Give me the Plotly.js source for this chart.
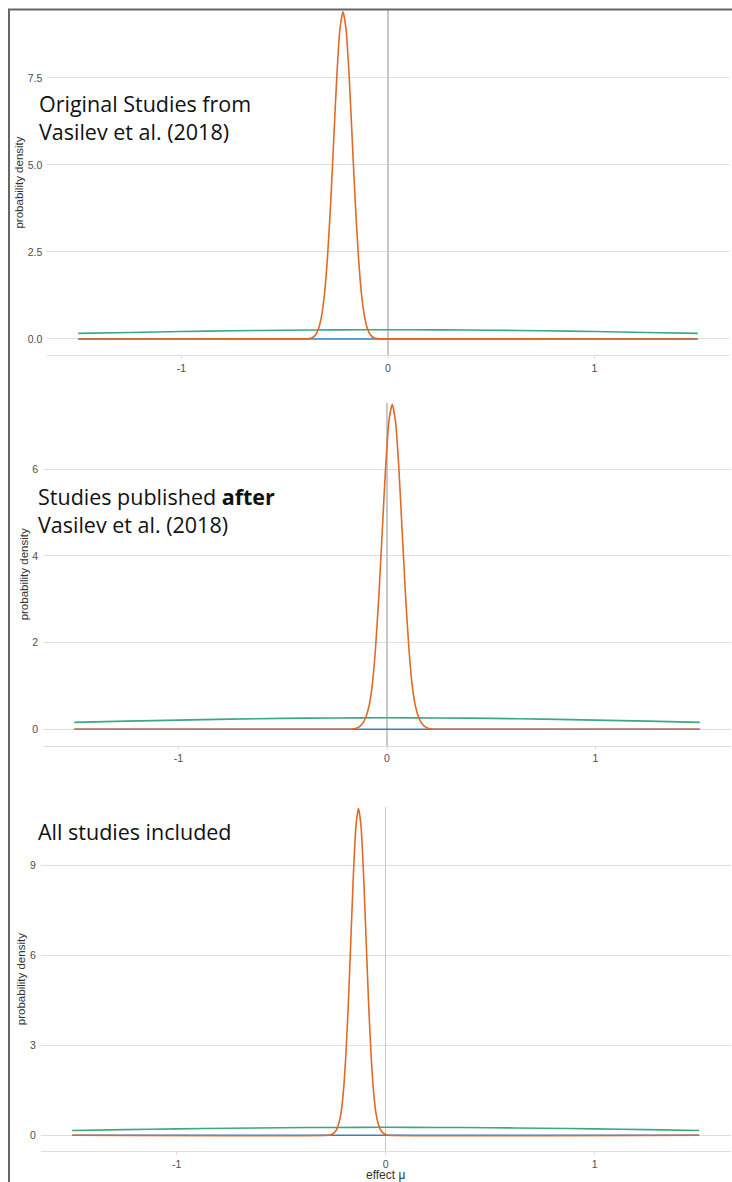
<!DOCTYPE html>
<html>
<head>
<meta charset="utf-8">
<script src="https://cdn.plot.ly/plotly-3.0.1.min.js"></script>
<style>
  html, body { margin: 0; padding: 0; background: #ffffff; }
  #chart { width: 732px; height: 1182px; }
</style>
</head>
<body>
<div id="chart"></div>
<script>
// ---- data ----
const panelTitles = [
  "Original Studies from<br>Vasilev et al. (2018)",
  "Studies published <b>after</b><br>Vasilev et al. (2018)",
  "All studies included"
];

// wide prior density (green), same in all panels
const priorX = [-1.5, -1.25, -1.0, -0.75, -0.5, -0.25, 0, 0.25, 0.5, 0.75, 1.0, 1.25, 1.5];
const priorY = [0.161, 0.188, 0.213, 0.235, 0.252, 0.262, 0.266, 0.262, 0.252, 0.235, 0.213, 0.188, 0.161];

// flat blue line at zero
const blueX = [-1.5, 1.5];
const blueY = [0, 0];

// posterior (orange) — original studies
const origX = [-1.5, -0.398, -0.383, -0.368, -0.353, -0.338, -0.323, -0.308, -0.293, -0.278, -0.263, -0.248, -0.233, -0.218,
  -0.203, -0.188, -0.173, -0.158, -0.143, -0.128, -0.113, -0.098, -0.083, -0.068, -0.053, -0.038, 1.5];
const origY = [0, 0.003, 0.011, 0.036, 0.104, 0.27, 0.62, 1.27, 2.35, 3.86, 5.70, 7.53, 8.89, 9.40,
  8.89, 7.53, 5.70, 3.86, 2.35, 1.27, 0.62, 0.27, 0.104, 0.036, 0.011, 0.003, 0];

// posterior (orange) — studies after
const afterX = [-1.5, -0.183, -0.167, -0.151, -0.135, -0.119, -0.103, -0.087, -0.071, -0.055, -0.039, -0.023, -0.007, 0.009, 0.025,
  0.041, 0.057, 0.073, 0.089, 0.105, 0.121, 0.137, 0.153, 0.169, 0.185, 0.201, 0.217, 0.233, 1.5];
const afterY = [0, 0.001, 0.006, 0.02, 0.05, 0.12, 0.26, 0.52, 1.01, 1.87, 3.08, 4.55, 6.01, 7.10, 7.50,
  7.10, 6.01, 4.55, 3.08, 1.87, 1.01, 0.52, 0.26, 0.12, 0.05, 0.02, 0.006, 0.001, 0];

// posterior (orange) — all studies
const allX = [-1.5, -0.274, -0.262, -0.25, -0.238, -0.226, -0.214, -0.202, -0.19, -0.178, -0.166, -0.154, -0.142, -0.13,
  -0.118, -0.106, -0.094, -0.082, -0.07, -0.058, -0.046, -0.034, -0.022, -0.01, 0.002, 0.014, 1.5];
const allY = [0, 0.003, 0.02, 0.06, 0.15, 0.35, 0.72, 1.47, 2.72, 4.48, 6.61, 8.73, 10.31, 10.9,
  10.31, 8.73, 6.61, 4.48, 2.72, 1.47, 0.72, 0.35, 0.15, 0.06, 0.02, 0.003, 0];

const xTickVals = [-1, 0, 1];
const xTickText = ["-1", "0", "1"];
const yTickSets = [
  {vals: [0, 2.5, 5, 7.5], text: ["0.0", "2.5", "5.0", "7.5"]},
  {vals: [0, 2, 4, 6], text: ["0", "2", "4", "6"]},
  {vals: [0, 3, 6, 9], text: ["0", "3", "6", "9"]}
];

// ---- styling / layout ----
const W = 732, H = 1182;
const GREEN = "#3aa882", BLUE = "#3d7fc6", ORANGE = "#e06a26";

const orangeSets = [[origX, origY], [afterX, afterY], [allX, allY]];
// pixel geometry of each panel: [left, right, top, bottom] and y ranges
const panels = [
  {px: [47.3, 728.7], py: [10, 355], yr: [-0.46, 9.45]},
  {px: [43, 731], py: [403, 745.7], yr: [-0.378, 7.53]},
  {px: [40.8, 730.5], py: [807.3, 1151], yr: [-0.523, 10.93]}
];

const traces = [];
const layout = {
  width: W, height: H,
  margin: {l: 0, r: 0, t: 0, b: 0},
  paper_bgcolor: "#ffffff",
  plot_bgcolor: "#ffffff",
  showlegend: false,
  font: {family: "Liberation Sans, Arial, sans-serif", color: "#4d4d4d", size: 10},
  annotations: [],
  shapes: []
};

panels.forEach((p, i) => {
  const sx = i === 0 ? "" : String(i + 1);
  const xa = "x" + sx, ya = "y" + sx;
  traces.push({x: blueX, y: blueY, xaxis: xa, yaxis: ya, type: "scatter", mode: "lines",
    line: {color: BLUE, width: 1.6}, hoverinfo: "skip"});
  traces.push({x: priorX, y: priorY, xaxis: xa, yaxis: ya, type: "scatter", mode: "lines",
    line: {color: GREEN, width: 1.6, shape: "spline"}, hoverinfo: "skip"});
  traces.push({x: orangeSets[i][0], y: orangeSets[i][1], xaxis: xa, yaxis: ya, type: "scatter", mode: "lines",
    line: {color: ORANGE, width: 1.6, shape: "spline", smoothing: 0.6}, hoverinfo: "skip"});

  layout["xaxis" + sx] = {
    domain: [p.px[0] / W, p.px[1] / W],
    anchor: ya,
    range: [-1.65, 1.65],
    tickmode: "array", tickvals: xTickVals, ticktext: xTickText,
    showgrid: false,
    zeroline: true, zerolinecolor: "#c8c8c8", zerolinewidth: 1.6,
    showline: true, linecolor: "#dddddd", linewidth: 1,
    ticks: "outside", ticklen: 3, tickcolor: "#dddddd",
    tickfont: {size: 10.5, color: "#4d4d4d"},
    fixedrange: true
  };
  if (i === 2) {
    layout["xaxis" + sx].title = {text: "effect μ", font: {size: 12, color: "#333"}, standoff: 0};
  }
  layout["yaxis" + sx] = {
    domain: [1 - p.py[1] / H, 1 - p.py[0] / H],
    anchor: xa,
    range: p.yr,
    tickmode: "array", tickvals: yTickSets[i].vals, ticktext: yTickSets[i].text,
    showgrid: true, gridcolor: "#dedede", gridwidth: 1,
    zeroline: false, showline: false, ticks: "",
    ticklabelstandoff: 4,
    tickfont: {size: 10.5, color: "#4d4d4d"},
    title: {text: "probability density", font: {size: 11.5, color: "#333"}, standoff: 1},
    fixedrange: true
  };
});

// panel labels
const labelPos = [
  {x: 37, y: 87},
  {x: 36, y: 480},
  {x: 36, y: 815}
];
labelPos.forEach((lp, i) => {
  layout.annotations.push({
    xref: "paper", yref: "paper",
    x: lp.x / W, y: 1 - lp.y / H,
    xanchor: "left", yanchor: "top",
    text: panelTitles[i], showarrow: false, align: "left",
    font: {family: "Open Sans, Noto Sans, sans-serif", size: 21.5, color: "#111"}
  });
});

// outer frame (left and top edges)
layout.shapes.push({type: "line", xref: "paper", yref: "paper",
  x0: 9 / W, x1: 9 / W, y0: 0, y1: 1 - 9.5 / H, line: {color: "#666666", width: 2}});
layout.shapes.push({type: "line", xref: "paper", yref: "paper",
  x0: 8 / W, x1: 1, y0: 1 - 9.5 / H, y1: 1 - 9.5 / H, line: {color: "#666666", width: 2}});

Plotly.newPlot("chart", traces, layout, {displayModeBar: false, staticPlot: true});
</script>
</body>
</html>
